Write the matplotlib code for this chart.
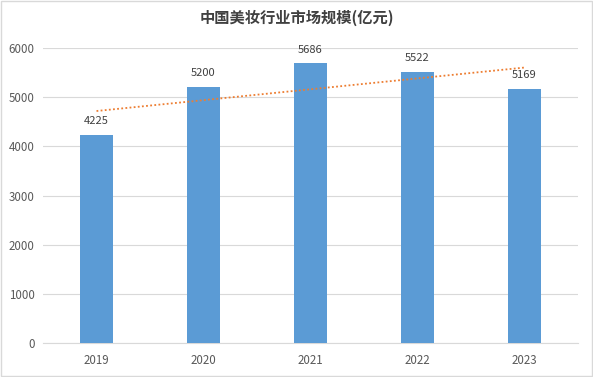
import matplotlib
matplotlib.use("Agg")
import matplotlib.pyplot as plt
import numpy as np
from matplotlib.patches import Rectangle

plt.rcParams["font.family"] = ["Noto Sans CJK SC", "DejaVu Sans"]

TITLE = "中国美妆行业市场规模(亿元)"
years = ["2019", "2020", "2021", "2022", "2023"]
values = [4225, 5200, 5686, 5522, 5169]
yticks = [0, 1000, 2000, 3000, 4000, 5000, 6000]

BAR = "#5B9BD5"
TREND = "#ED7D31"
TEXT = "#404040"

fig = plt.figure(figsize=(5.93, 3.77), dpi=100)
ax = fig.add_axes([43 / 593, 1 - 343 / 377, 535 / 593, 295 / 377])

x = np.arange(len(years))
ax.bar(x, values, width=0.31, color=BAR, zorder=3)
for xi, v in zip(x, values):
    ax.text(xi, v + 180, str(v), ha="center", va="bottom", fontsize=8, color=TEXT, zorder=4)

# linear trendline
coef = np.polyfit(x, values, 1)
ax.plot(x, np.polyval(coef, x), color=TREND, ls=(0, (1, 1.3)), lw=1.3, zorder=4)

ax.set_xlim(-0.5, len(years) - 0.5)
ax.set_ylim(0, 6000)
ax.set_yticks(yticks)
ax.set_xticks(x)
ax.set_xticklabels(years)
ax.tick_params(length=0, labelsize=8.3, labelcolor="#595959")
ax.tick_params(axis="x", pad=8)
ax.tick_params(axis="y", pad=6)
ax.grid(axis="y", color="#D9D9D9", lw=0.8, zorder=0)
for s in ["top", "right", "left"]:
    ax.spines[s].set_visible(False)
ax.spines["bottom"].set_color("#D9D9D9")

fig.text(0.5, 1 - 18 / 377, TITLE, ha="center", va="center", fontsize=11,
         fontweight="bold", color=TEXT)
fig.patches.append(Rectangle((0.002, 0.003), 0.996, 0.994, transform=fig.transFigure,
                             fill=False, edgecolor="#D9D9D9", lw=1))

fig.savefig("out.png", dpi=100)
